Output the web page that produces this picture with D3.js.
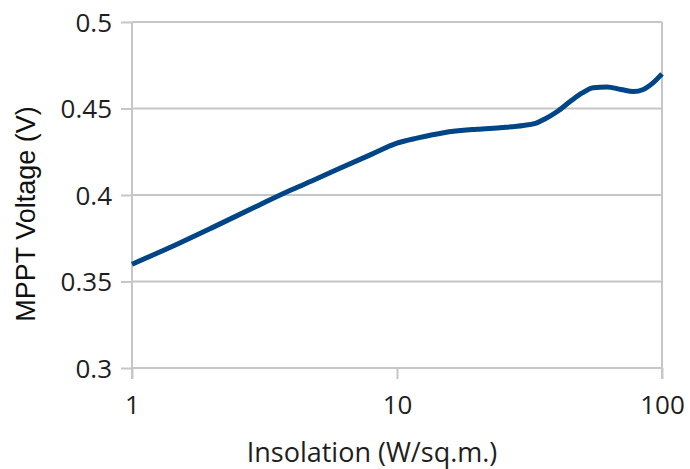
<!DOCTYPE html>
<html lang="en">
  <head>
    <meta charset="UTF-8" />
    <title>MPPT voltage</title>
    <script src="https://cdn.jsdelivr.net/npm/d3@7/dist/d3.min.js"></script>
    <style>
      body { margin: 0; background: #fff; }
    </style>
  </head>
  <body>
    <div id="wrapper"></div>
    <script>
      // insolation (W/sq.m.) and MPPT voltage (V)
      const insolation = [1, 1.5, 2, 3, 4, 5, 6, 8, 10, 12, 15, 20, 25, 30, 33, 36, 40, 45, 50, 55, 62, 70, 78, 85, 92, 100];
      const mpptVoltage = [0.360, 0.372, 0.381, 0.394, 0.403, 0.4095, 0.4150, 0.4235, 0.430, 0.433, 0.436, 0.438, 0.439, 0.4402, 0.4412, 0.4438, 0.448, 0.454, 0.459, 0.462, 0.4625, 0.461, 0.4598, 0.461, 0.4645, 0.470];
      const xTicks = [1, 10, 100];
      const yTicks = [0.3, 0.35, 0.4, 0.45, 0.5];

      const dimensions = {
        width: 690,
        height: 469,
        margin: { top: 22, right: 28, bottom: 101, left: 132 },
      };
      dimensions.boundedWidth =
        dimensions.width - dimensions.margin.left - dimensions.margin.right;
      dimensions.boundedHeight =
        dimensions.height - dimensions.margin.top - dimensions.margin.bottom;

      const data = insolation.map((x, i) => ({ x, y: mpptVoltage[i] }));

      const svg = d3
        .select("#wrapper")
        .append("svg")
        .attr("width", dimensions.width)
        .attr("height", dimensions.height);

      const bounds = svg
        .append("g")
        .attr(
          "transform",
          `translate(${dimensions.margin.left},${dimensions.margin.top})`
        );

      const xScale = d3
        .scaleLog()
        .domain([1, 100])
        .range([0, dimensions.boundedWidth]);
      const yScale = d3
        .scaleLinear()
        .domain([0.3, 0.5])
        .range([dimensions.boundedHeight, 0]);

      const gridColor = "#c6c6c6";
      const textColor = "#1e1e1e";

      // horizontal gridlines
      bounds
        .append("g")
        .selectAll("line")
        .data(yTicks)
        .join("line")
        .attr("x1", 0)
        .attr("x2", dimensions.boundedWidth)
        .attr("y1", (d) => yScale(d))
        .attr("y2", (d) => yScale(d))
        .attr("stroke", gridColor)
        .attr("stroke-width", 2);

      // right border line at 100
      bounds
        .append("line")
        .attr("x1", xScale(100))
        .attr("x2", xScale(100))
        .attr("y1", 0)
        .attr("y2", dimensions.boundedHeight + 11)
        .attr("stroke", gridColor)
        .attr("stroke-width", 2);

      const yAxis = bounds
        .append("g")
        .call(
          d3
            .axisLeft(yScale)
            .tickValues(yTicks)
            .tickSize(11)
            .tickPadding(9)
            .tickFormat((d) => d3.format("")(d))
        );
      const xAxis = bounds
        .append("g")
        .attr("transform", `translate(0,${dimensions.boundedHeight})`)
        .call(
          d3
            .axisBottom(xScale)
            .tickValues(xTicks)
            .tickSize(11)
            .tickPadding(17)
            .tickFormat(d3.format("d"))
        );

      [xAxis, yAxis].forEach((axis) => {
        axis.select(".domain").remove();
        axis.selectAll(".tick line").attr("stroke", gridColor).attr("stroke-width", 2);
        axis
          .selectAll(".tick text")
          .attr("fill", textColor)
          .style("font-family", "'Open Sans', sans-serif")
          .style("font-size", "26px");
      });
      yAxis.selectAll(".tick text").attr("dy", "0.36em");

      // left axis line
      bounds
        .append("line")
        .attr("x1", 0)
        .attr("x2", 0)
        .attr("y1", 0)
        .attr("y2", dimensions.boundedHeight + 11)
        .attr("stroke", gridColor)
        .attr("stroke-width", 2);

      const lineGenerator = d3
        .line()
        .x((d) => xScale(d.x))
        .y((d) => yScale(d.y))
        .curve(d3.curveMonotoneX);

      bounds
        .append("path")
        .attr("d", lineGenerator(data))
        .attr("fill", "none")
        .attr("stroke", "#004586")
        .attr("stroke-width", 5)
        .attr("stroke-linejoin", "round");

      svg
        .append("text")
        .attr("x", 372)
        .attr("y", 462)
        .attr("text-anchor", "middle")
        .attr("fill", textColor)
        .style("font-family", "'Open Sans', sans-serif")
        .style("font-size", "27px")
        .text("Insolation (W/sq.m.)");

      svg
        .append("text")
        .attr("transform", "translate(35,214) rotate(-90)")
        .attr("text-anchor", "middle")
        .attr("fill", "#111")
        .style("font-family", "'Liberation Sans', Arial, sans-serif")
        .style("font-size", "27px")
        .text("MPPT Voltage (V)");
    </script>
  </body>
</html>
